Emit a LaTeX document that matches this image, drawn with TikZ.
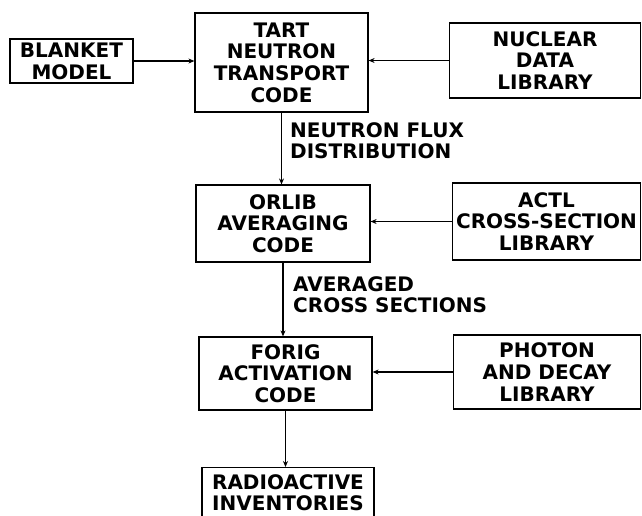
\documentclass[tikz,border=0pt]{standalone}
\usepackage{fontspec}
\setmainfont{DejaVu Sans}[BoldFont={DejaVu Sans Bold}]
\usetikzlibrary{arrows.meta}
\begin{document}
\begin{tikzpicture}[x=1pt,y=-1pt,
  box/.style={draw, line width=1.2pt, inner sep=0pt, align=center,
    font=\fontsize{20}{21.7}\selectfont\bfseries},
  lbl/.style={inner sep=0pt, align=left, anchor=north west,
    font=\fontsize{20}{21.7}\selectfont\bfseries},
  flow/.style={line width=1.5pt, -{Stealth[length=6pt,width=5pt]}}]
\useasboundingbox (0,0) rectangle (642,515);
\clip (0,0) rectangle (642,515);
\node[box, minimum width=123pt, minimum height=44pt] (blanket) at (71.5,61) {BLANKET\\MODEL};
\node[box, minimum width=173pt, minimum height=99pt] (tart) at (281.5,62.5) {TART\\NEUTRON\\TRANSPORT\\CODE};
\node[box, minimum width=191pt, minimum height=75pt] (nuclear) at (545,60.5) {NUCLEAR\\DATA\\LIBRARY};
\node[box, minimum width=174pt, minimum height=77pt] (orlib) at (283,223.5) {ORLIB\\AVERAGING\\CODE};
\node[box, minimum width=188pt, minimum height=77pt] (actl) at (546.5,221.5) {ACTL\\CROSS-SECTION\\LIBRARY};
\node[box, minimum width=173pt, minimum height=73pt] (forig) at (285.5,373.5) {FORIG\\ACTIVATION\\CODE};
\node[box, minimum width=187pt, minimum height=74pt] (photon) at (547,372) {PHOTON\\AND DECAY\\LIBRARY};
\node[box, minimum width=172pt, minimum height=78pt, anchor=north] (radio) at (288,467) {RADIOACTIVE\\INVENTORIES\\ \strut};
\node[lbl] (flux) at (290,122) {NEUTRON FLUX\\DISTRIBUTION};
\node[lbl] (xs) at (293,276) {AVERAGED\\CROSS SECTIONS};
\draw[flow] (blanket.east) -- (blanket.east -| tart.west);
\draw[flow] (nuclear.west) -- (nuclear.west -| tart.east);
\draw[flow] (actl.west) -- (actl.west -| orlib.east);
\draw[flow] (photon.west) -- (photon.west -| forig.east);
\draw[flow] (tart.south) -- (tart.south |- orlib.north);
\draw[flow] (orlib.south) -- (orlib.south |- forig.north);
\draw[flow] (forig.south) -- (forig.south |- radio.north);
\end{tikzpicture}
\end{document}
